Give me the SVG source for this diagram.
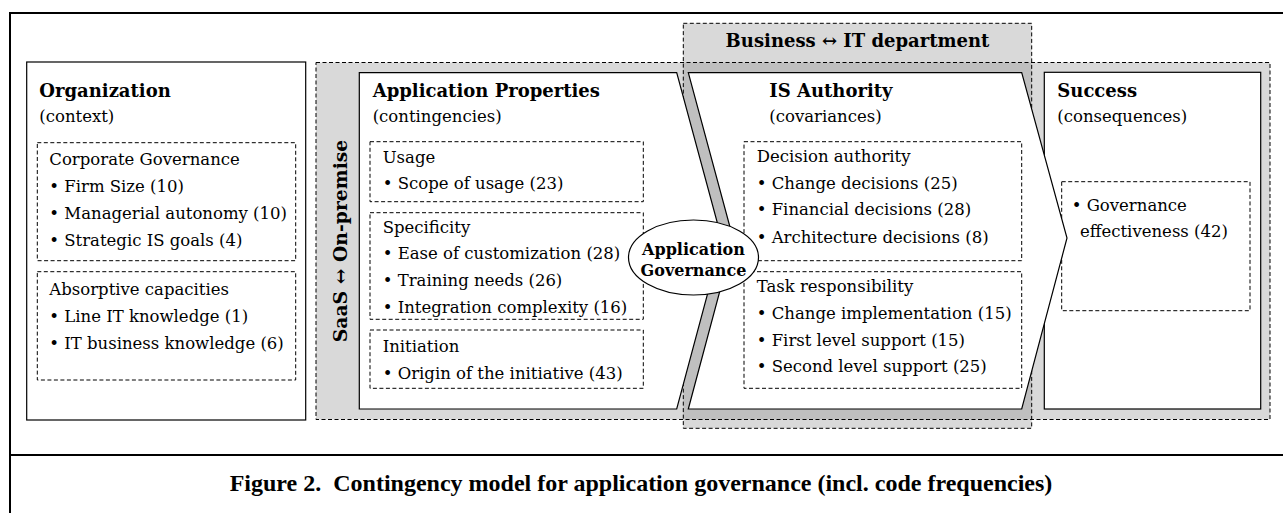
<svg xmlns="http://www.w3.org/2000/svg" width="1283" height="513" viewBox="0 0 1283 513">
<style>
text{font-family:"DejaVu Serif","Liberation Serif",serif;fill:#000}
.t{font-size:16.5px}
.b{font-size:18px;font-weight:bold}
.e{font-size:16px;font-weight:bold}
.box{fill:#fff;stroke:#000;stroke-width:1.2}
.dash{fill:none;stroke:#000;stroke-width:1;stroke-dasharray:4 2.5}
.gray{fill:#D9D9D9}
.dark{fill:#BFBFBF}
.cap{font-family:"Liberation Serif",serif;font-weight:bold;font-size:24px}
</style>
<g id="frame">
<rect x="10" y="13" width="1290" height="520" fill="none" stroke="#000" stroke-width="2"/>
<line x1="10" y1="455" x2="1283" y2="455" stroke="#000" stroke-width="2"/>
</g>
<g id="regions">
<rect class="gray" x="316" y="62.5" width="954" height="357"/>
<rect class="gray" x="683.3" y="23.3" width="348.4" height="405"/>
<rect class="dark" x="683.3" y="62.5" width="348.4" height="357"/>
<rect class="dash" x="316" y="62.5" width="954" height="357"/>
<rect class="dash" x="683.3" y="23.3" width="348.4" height="405"/>
<text class="b" x="857.5" y="47" text-anchor="middle">Business ↔ IT department</text>
<text class="b" transform="translate(346.5,241) rotate(-90)" text-anchor="middle" style="font-size:18.8px">SaaS ↔ On-premise</text>
</g>
<g id="organization">
<rect class="box" x="26.7" y="62" width="279" height="358"/>
<text class="b" x="39.3" y="96.7">Organization</text>
<text class="t" x="39.3" y="121.7">(context)</text>
<rect class="dash" x="37.3" y="142.7" width="258.4" height="118"/>
<text class="t" x="49.3" y="165">Corporate Governance</text>
<text class="t" x="49.3" y="192">• Firm Size (10)</text>
<text class="t" x="49.3" y="219">• Managerial autonomy (10)</text>
<text class="t" x="49.3" y="246">• Strategic IS goals (4)</text>
<rect class="dash" x="37.3" y="271.7" width="258.4" height="108.3"/>
<text class="t" x="49.3" y="295">Absorptive capacities</text>
<text class="t" x="49.3" y="322">• Line IT knowledge (1)</text>
<text class="t" x="49.3" y="349">• IT business knowledge (6)</text>
</g>
<g id="application-properties">
<path class="box" d="M359.3,72.7 H676.7 L722,240 L676.7,409 H359.3 Z"/>
<text class="b" x="372.7" y="96.7">Application Properties</text>
<text class="t" x="372.7" y="121.7">(contingencies)</text>
<rect class="dash" x="370" y="141.7" width="273.3" height="60"/>
<text class="t" x="382.7" y="162.5">Usage</text>
<text class="t" x="382.7" y="189">• Scope of usage (23)</text>
<rect class="dash" x="370" y="212.7" width="273.3" height="106.6"/>
<text class="t" x="382.7" y="233">Specificity</text>
<text class="t" x="382.7" y="259">• Ease of customization (28)</text>
<text class="t" x="382.7" y="285.5">• Training needs (26)</text>
<text class="t" x="382.7" y="312.5">• Integration complexity (16)</text>
<rect class="dash" x="370" y="330" width="273.3" height="58.3"/>
<text class="t" x="382.7" y="352">Initiation</text>
<text class="t" x="382.7" y="378.5">• Origin of the initiative (43)</text>
</g>
<g id="success">
<rect class="box" x="1044.3" y="72.3" width="216.4" height="336.7"/>
<text class="b" x="1057.3" y="96.7">Success</text>
<text class="t" x="1057.3" y="121.7">(consequences)</text>
<rect class="dash" x="1061.7" y="181.7" width="188.3" height="129"/>
<text class="t" x="1071.7" y="210.5">• Governance</text>
<text class="t" x="1080" y="237">effectiveness (42)</text>
</g>
<g id="is-authority">
<path class="box" d="M688.3,72.7 H1021.7 L1067,238 L1021.7,409 H688.3 L733.5,240 Z"/>
<text class="b" x="769.3" y="96.7">IS Authority</text>
<text class="t" x="769.3" y="121.7">(covariances)</text>
<rect class="dash" x="744" y="141.7" width="277.7" height="119"/>
<text class="t" x="756.7" y="162">Decision authority</text>
<text class="t" x="756.7" y="188.5">• Change decisions (25)</text>
<text class="t" x="756.7" y="215">• Financial decisions (28)</text>
<text class="t" x="756.7" y="242.5">• Architecture decisions (8)</text>
<rect class="dash" x="744" y="271.7" width="277.7" height="116.6"/>
<text class="t" x="756.7" y="292">Task responsibility</text>
<text class="t" x="756.7" y="318.5">• Change implementation (15)</text>
<text class="t" x="756.7" y="345.5">• First level support (15)</text>
<text class="t" x="756.7" y="372">• Second level support (25)</text>
</g>
<g id="application-governance">
<ellipse cx="693.5" cy="257.5" rx="65" ry="37.5" fill="#fff" stroke="#000" stroke-width="1.2"/>
<text class="e" x="693.5" y="255" text-anchor="middle">Application</text>
<text class="e" x="693.5" y="276" text-anchor="middle">Governance</text>
</g>
<g id="connectors"/>
<g id="caption">
<text class="cap" x="641" y="491" text-anchor="middle" xml:space="preserve">Figure 2.  Contingency model for application governance (incl. code frequencies)</text>
</g>
</svg>
